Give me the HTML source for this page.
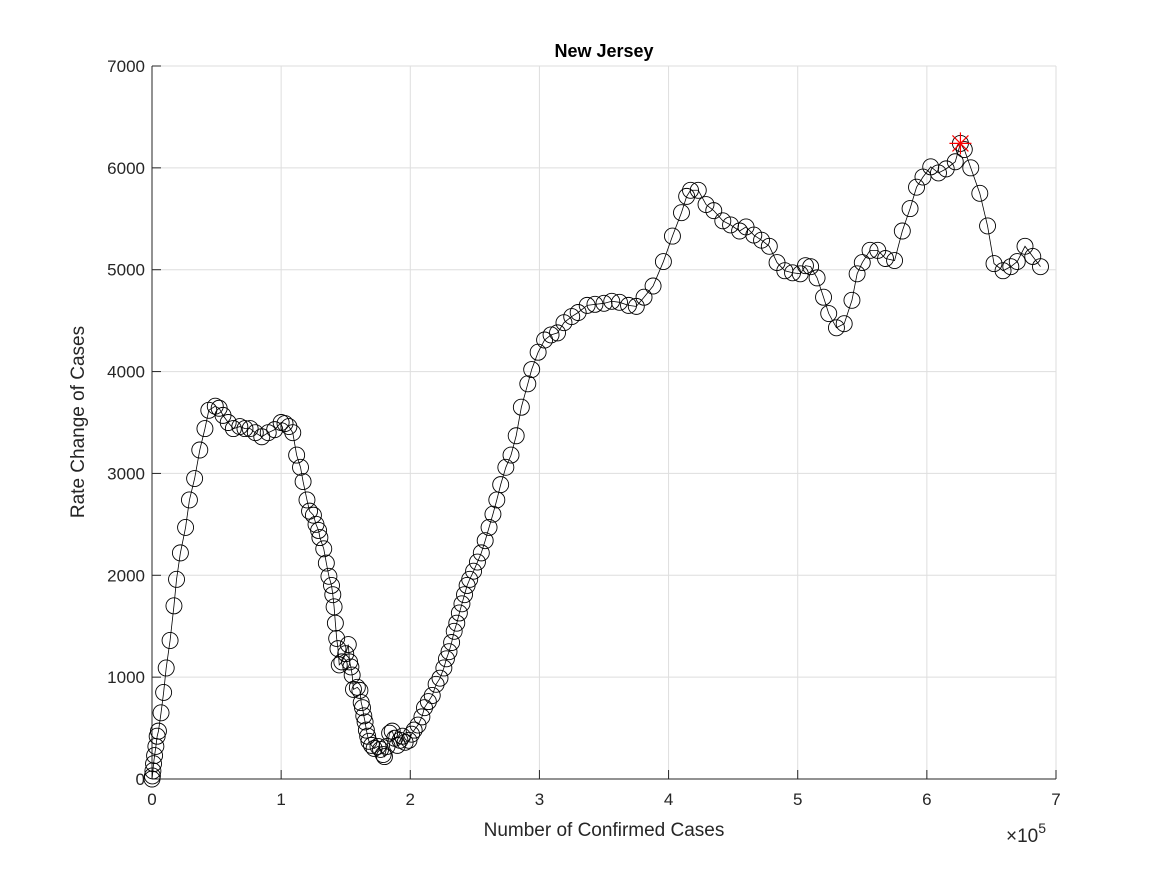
<!DOCTYPE html>
<html><head><meta charset="utf-8"><style>
body{margin:0;background:#fff;font-family:"Liberation Sans",sans-serif}
svg text{font-family:"Liberation Sans",sans-serif;fill:#262626}
</style></head><body>
<svg id="chart" width="1167" height="875" xmlns="http://www.w3.org/2000/svg">
<rect width="1167" height="875" fill="#fff"/>
<g id="grid"></g>
<g id="axes"></g>
<g id="series"></g>
<text x="604" y="57" text-anchor="middle" font-size="18" font-weight="bold" style="fill:#000">New Jersey</text>
<text x="604" y="836" text-anchor="middle" font-size="19">Number of Confirmed Cases</text>
<text transform="translate(84,422) rotate(-90)" text-anchor="middle" font-size="19">Rate Change of Cases</text>
<text x="1006" y="842" font-size="19">×10<tspan font-size="14" dy="-9">5</tspan></text>
</svg>
<script>
const xTicks=[0,1,2,3,4,5,6,7];
const yTicks=[0,1000,2000,3000,4000,5000,6000,7000];
const xVals=[0,0.003,0.007,0.012,0.02,0.03,0.04,0.05,0.07,0.09,0.11,0.14,0.17,0.19,0.22,0.26,0.29,0.33,0.37,0.41,0.44,0.49,0.52,0.55,0.59,0.63,0.68,0.72,0.76,0.8,0.85,0.9,0.95,1.0,1.03,1.06,1.09,1.12,1.15,1.17,1.2,1.22,1.25,1.27,1.29,1.3,1.33,1.35,1.37,1.39,1.4,1.41,1.42,1.43,1.44,1.45,1.47,1.5,1.52,1.53,1.54,1.55,1.56,1.59,1.61,1.62,1.63,1.64,1.65,1.66,1.67,1.68,1.7,1.72,1.75,1.77,1.79,1.8,1.82,1.84,1.86,1.88,1.9,1.92,1.94,1.96,1.99,2.01,2.03,2.06,2.09,2.11,2.14,2.17,2.2,2.23,2.26,2.28,2.3,2.32,2.34,2.36,2.38,2.4,2.42,2.44,2.46,2.49,2.52,2.55,2.58,2.61,2.64,2.67,2.7,2.74,2.78,2.82,2.86,2.91,2.94,2.99,3.04,3.09,3.14,3.19,3.25,3.3,3.37,3.43,3.5,3.56,3.62,3.69,3.75,3.81,3.88,3.96,4.03,4.1,4.14,4.17,4.23,4.29,4.35,4.42,4.48,4.55,4.6,4.66,4.72,4.78,4.84,4.9,4.96,5.02,5.06,5.1,5.15,5.2,5.24,5.3,5.36,5.42,5.46,5.5,5.56,5.62,5.68,5.75,5.81,5.87,5.92,5.97,6.03,6.09,6.15,6.22,6.26,6.29,6.34,6.41,6.47,6.52,6.59,6.65,6.7,6.76,6.82,6.88];
const yVals=[0,30,80,150,230,320,420,470,650,850,1090,1360,1700,1960,2220,2470,2740,2950,3230,3440,3620,3660,3640,3570,3500,3440,3460,3440,3440,3400,3360,3400,3430,3500,3490,3460,3400,3180,3060,2920,2740,2630,2590,2500,2440,2370,2260,2120,1990,1900,1810,1690,1530,1380,1280,1120,1150,1230,1320,1150,1100,1020,880,900,870,750,700,620,560,480,420,370,330,300,320,290,240,220,320,450,470,400,330,380,420,360,380,440,480,530,610,700,760,820,930,990,1090,1180,1250,1340,1450,1530,1630,1720,1810,1900,1960,2040,2130,2220,2340,2470,2600,2740,2890,3060,3180,3370,3650,3880,4020,4190,4310,4360,4380,4480,4540,4580,4650,4660,4670,4690,4680,4650,4640,4730,4840,5080,5330,5560,5720,5780,5780,5640,5580,5480,5440,5380,5420,5340,5290,5230,5070,4990,4970,4960,5040,5030,4920,4730,4570,4430,4470,4700,4960,5070,5190,5190,5110,5090,5380,5600,5810,5910,6010,5950,5990,6060,6240,6180,6000,5750,5430,5060,4990,5030,5080,5230,5130,5030];
const peakX=[6.26];
const peakY=[6240];
const X0=152,X1=1056,Y0=779,Y1=66;
const sx=v=>X0+(v-0)/7*(X1-X0);
const sy=v=>Y0-(v/7000)*(Y0-Y1);
const NS="http://www.w3.org/2000/svg";
function mk(t,a,p){const e=document.createElementNS(NS,t);for(const k in a)e.setAttribute(k,a[k]);p.appendChild(e);return e;}
const grid=document.getElementById('grid'),axes=document.getElementById('axes'),ser=document.getElementById('series');
xTicks.forEach(t=>{
 const g=mk('line',{x1:sx(t),x2:sx(t),y1:Y0,y2:Y1,stroke:'#dedede','stroke-width':1},grid);
 
 
 mk('line',{x1:sx(t),x2:sx(t),y1:Y0,y2:Y0-9,stroke:'#262626'},axes);
 const l=mk('text',{x:sx(t),y:Y0+26,'text-anchor':'middle','font-size':17},axes);
 l.textContent=t;
 
 
});
yTicks.forEach(t=>{
 const g=mk('line',{x1:X0,x2:X1,y1:sy(t),y2:sy(t),stroke:'#dedede','stroke-width':1},grid);
 
 
 mk('line',{x1:X0,x2:X0+9,y1:sy(t),y2:sy(t),stroke:'#262626'},axes);
 const l=mk('text',{x:X0-7,y:sy(t)+6,'text-anchor':'end','font-size':17},axes);
 l.textContent=t;
 
 
});
mk('line',{x1:X0,x2:X1,y1:Y0,y2:Y0,stroke:'#262626','stroke-width':1},axes);
mk('line',{x1:X0,x2:X0,y1:Y0,y2:Y1,stroke:'#262626','stroke-width':1},axes);
const pl=mk('polyline',{points:xVals.map((x,i)=>sx(x)+','+sy(yVals[i])).join(' '),fill:'none',stroke:'#000','stroke-width':0.8},ser);


xVals.forEach((x,i)=>{
 const c=mk('circle',{cx:sx(x),cy:sy(yVals[i]),r:8,fill:'none',stroke:'#000','stroke-width':0.9},ser);
 
 
});
peakX.forEach((x,i)=>{
 const cx=sx(x),cy=sy(peakY[i]);
 const g=mk('g',{stroke:'#f00','stroke-width':1.2},ser);
 
 
 mk('line',{x1:cx-11,x2:cx+11,y1:cy,y2:cy},g);
 mk('line',{x1:cx,x2:cx,y1:cy-11,y2:cy+11},g);
 mk('line',{x1:cx-8,x2:cx+8,y1:cy-8,y2:cy+8},g);
 mk('line',{x1:cx-8,x2:cx+8,y1:cy+8,y2:cy-8},g);
});
</script>
</body></html>
